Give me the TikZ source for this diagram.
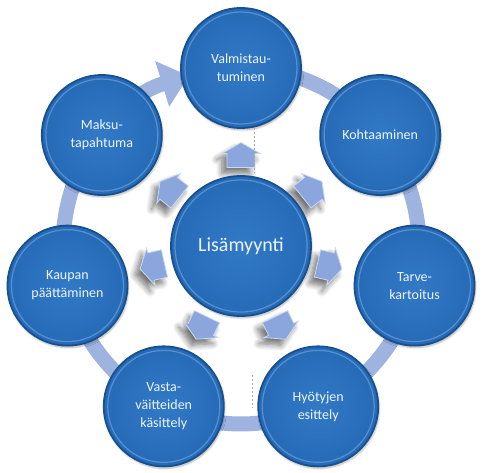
\documentclass[tikz,border=0pt]{standalone}
\usepackage{fontspec}
\setmainfont{Carlito}
\usetikzlibrary{arrows.meta,shadows.blur}
\definecolor{ringc}{RGB}{158,179,224}
\definecolor{arrc}{RGB}{138,166,220}
\definecolor{ballin}{RGB}{50,122,198}
\definecolor{ballout}{RGB}{38,106,182}
\definecolor{rimc}{RGB}{24,80,142}
\definecolor{hlc}{RGB}{92,152,218}
\definecolor{txtc}{RGB}{238,244,252}
\tikzset{
  x=1pt, y=1pt,
  stage/.style={circle, minimum size=120pt, inner sep=0pt, inner color=ballin, outer color=ballout,
    draw=rimc, line width=1.8pt, text=txtc, font=\fontsize{14}{18}\selectfont, align=center,
    blur shadow={shadow xshift=1pt, shadow yshift=-2pt, shadow opacity=30, shadow blur steps=5},
    path picture={\draw[hlc, line width=1.2pt, opacity=.85] (path picture bounding box.center) circle (56pt);}},
  hub/.style={stage, minimum size=140pt, font=\fontsize{20}{24}\selectfont,
    path picture={\draw[hlc, line width=1.2pt, opacity=.85] (path picture bounding box.center) circle (66pt);}},
  spokestyle/.style={fill=arrc, draw=white!55!arrc, line width=0.8pt,
    blur shadow={shadow xshift=-5pt, shadow yshift=-6pt, shadow opacity=55, shadow blur radius=6pt, shadow blur steps=8}},
  spoke/.pic={\path[spokestyle] (-12.5,-14) -- (1.5,-14) -- (1.5,-19) -- (12.5,0) -- (1.5,19) -- (1.5,14) -- (-12.5,14) -- cycle;},
  band/.style={ringc, line width=15pt, -{Triangle[width=46pt,length=28pt]}},
  guide/.style={gray!70, line width=0.4pt, dash pattern=on 2pt off 2pt}
}
\begin{document}
\begin{tikzpicture}
\useasboundingbox (-241,-227) rectangle (247,246);
% ring band with arrowhead
\draw[band] (90:178) arc[start angle=90, end angle=-253, radius=178];
% spokes from hub
\foreach \i in {0,...,6}{
  \pgfmathsetmacro{\a}{90-\i*360/7}
  \pic[rotate=\a] at (\a:91) {spoke};
}
% nodes
\node[hub] (hub) at (0,0) {Lisämyynti};
\node[stage] (s0) at ({90}:178) {Valmistau-\\tuminen};
\node[stage] (s1) at ({90-360/7}:178) {Kohtaaminen};
\node[stage] (s2) at ({90-2*360/7}:178) {Tarve-\\kartoitus};
\node[stage] (s3) at ({90-3*360/7}:178) {Hyötyjen\\esittely};
\node[stage] (s4) at ({90-4*360/7}:178) {Vasta-\\väitteiden\\käsittely};
\node[stage] (s5) at ({90-5*360/7}:178) {Kaupan\\päättäminen};
\node[stage] (s6) at ({90-6*360/7}:178) {Maksu-\\tapahtuma};
% faint dashed guides
\coordinate (g1a) at (13,118); \coordinate (g1b) at (13,73);
\coordinate (g2a) at (11,-129); \coordinate (g2b) at (11,-162);
\draw[guide] (g1a) -- (g1b);
\draw[guide] (g2a) -- (g2b);
\end{tikzpicture}
\end{document}
